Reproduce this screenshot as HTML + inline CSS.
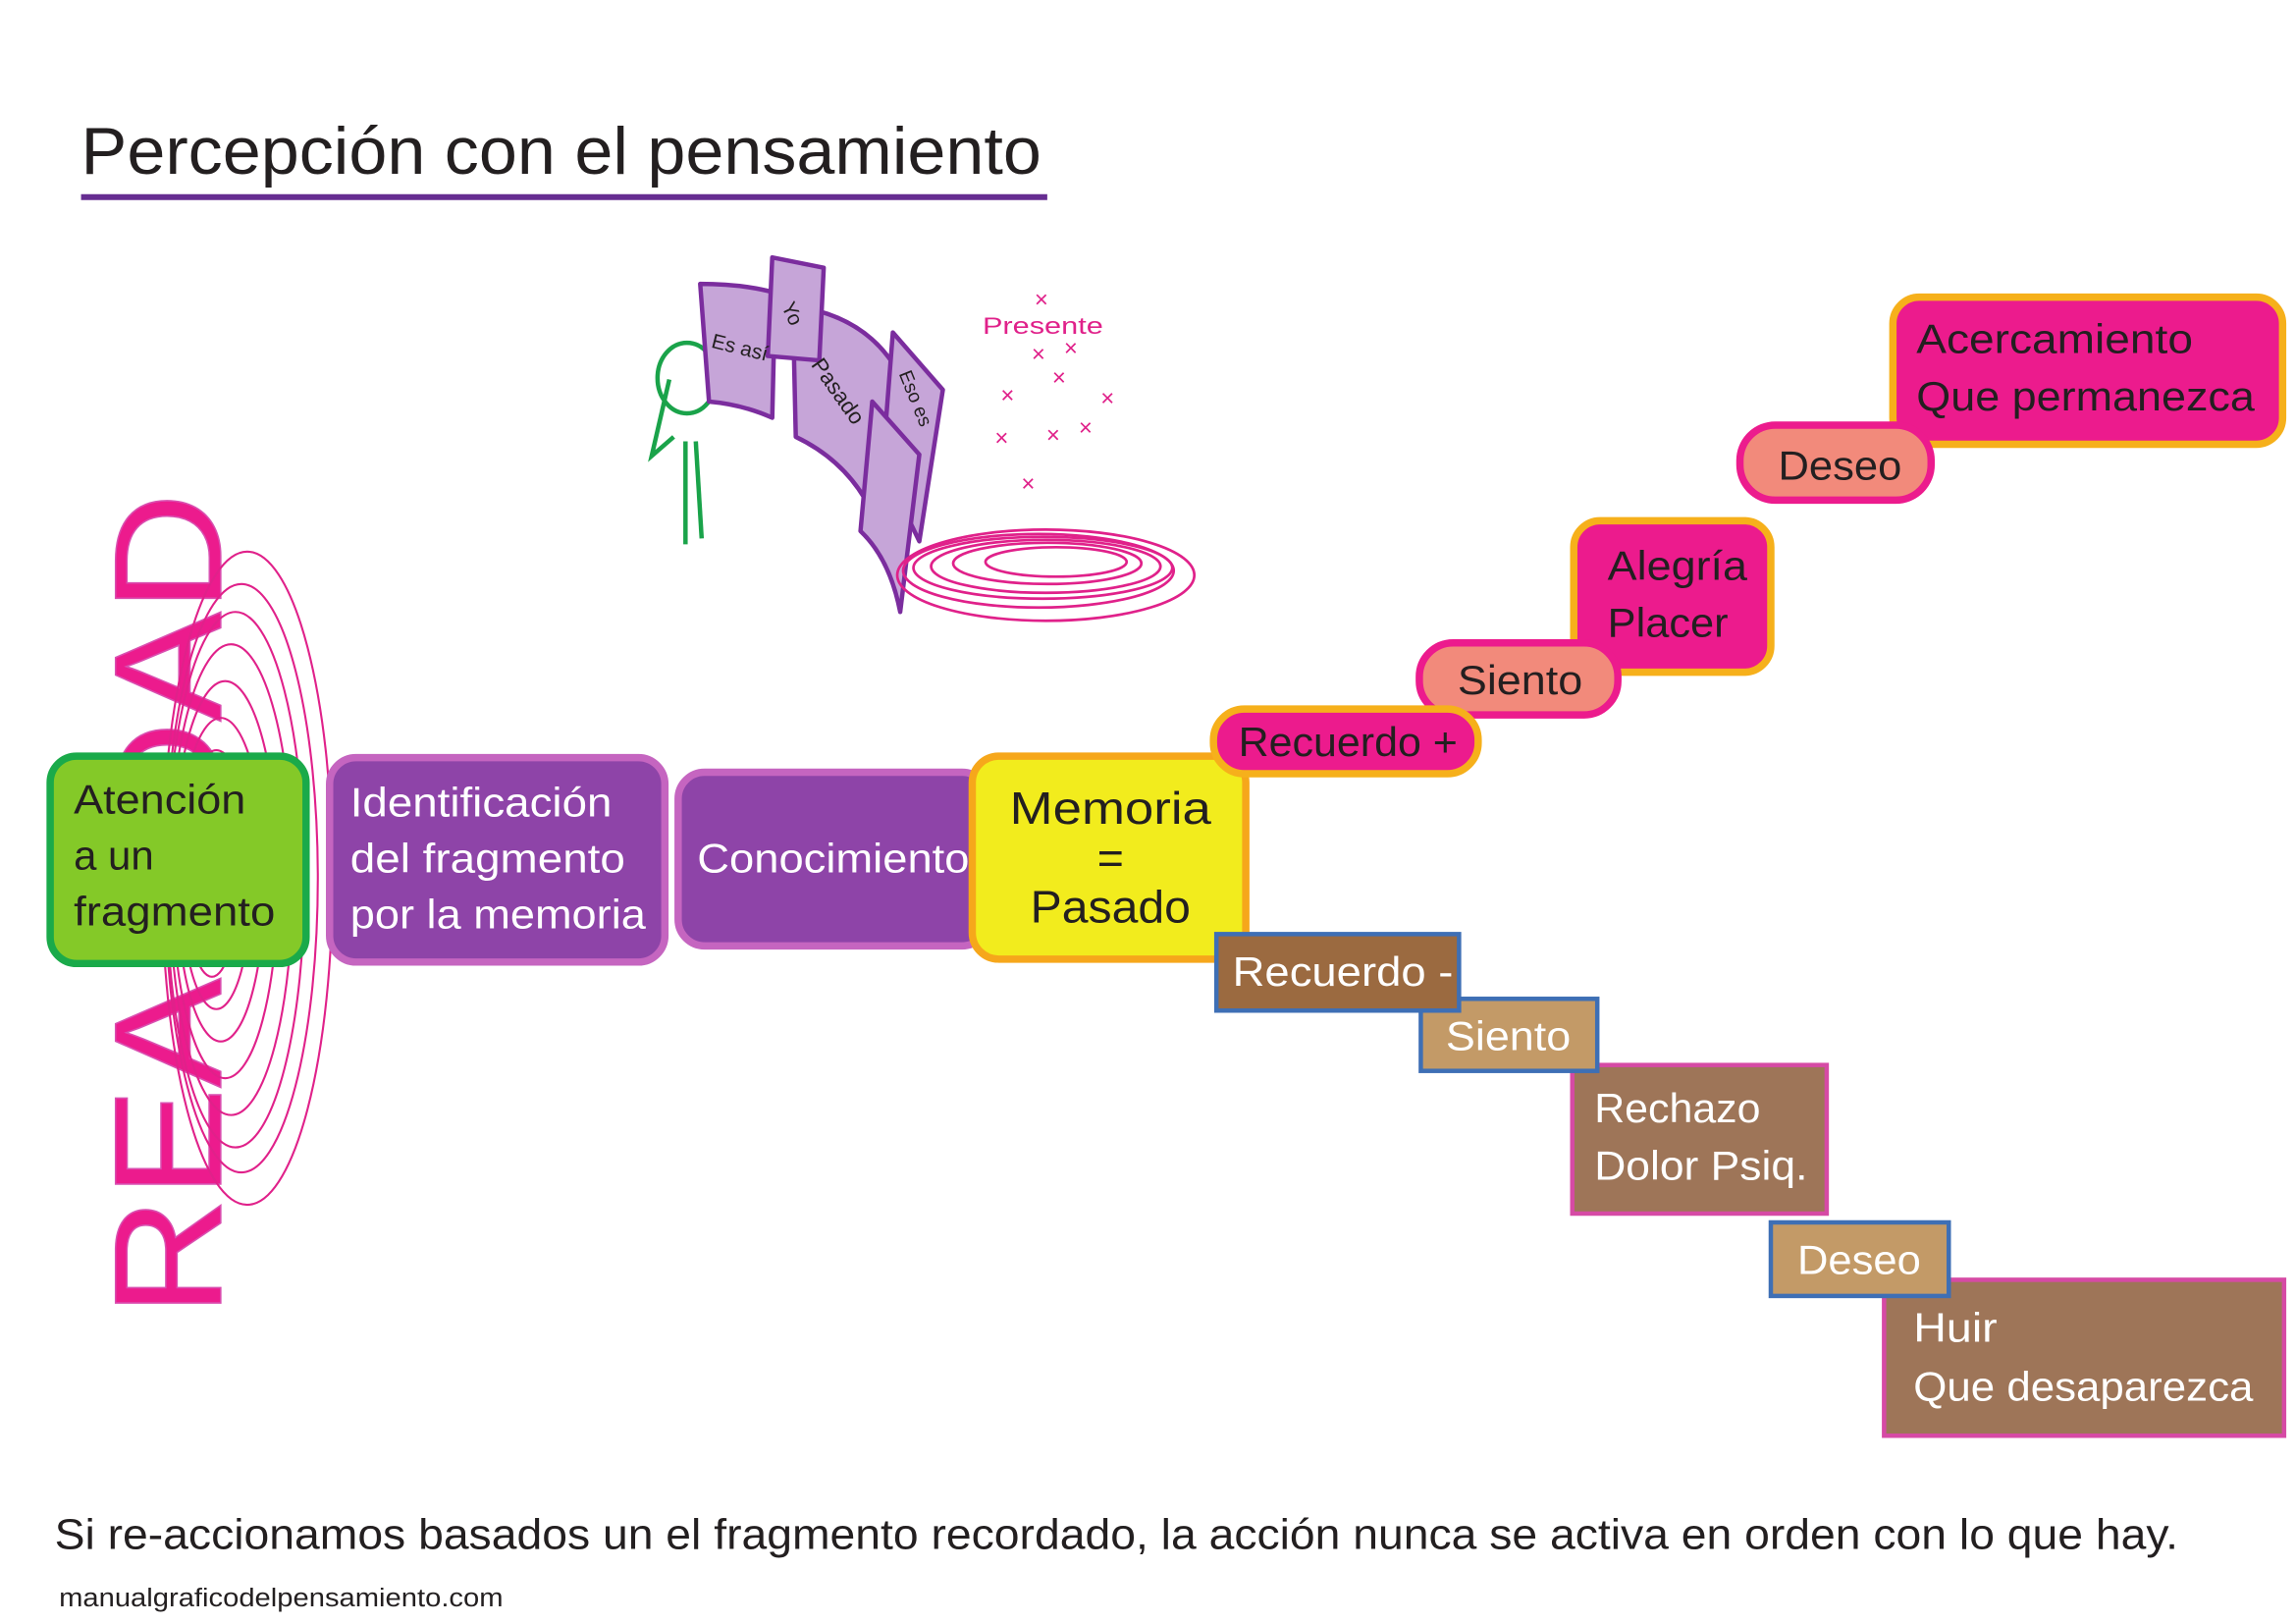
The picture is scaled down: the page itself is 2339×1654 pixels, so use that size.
<!DOCTYPE html>
<html><head><meta charset="utf-8"><style>
html,body{margin:0;padding:0;background:#fff;}
svg{display:block;}
text{font-family:"Liberation Sans",sans-serif;}
</style></head><body>
<svg width="2339" height="1654" viewBox="0 0 1561 1104" xmlns="http://www.w3.org/2000/svg">
<rect width="1561" height="1104" fill="#fff"/>
<text x="55" y="118" font-size="45" fill="#231f20" textLength="653" lengthAdjust="spacingAndGlyphs">Percepción con el pensamiento</text>
<rect x="55" y="132" width="657" height="4" fill="#662d91"/>

<text transform="translate(150,895) rotate(-90)" font-size="104" fill="#ec1b8d" stroke="#d94fb0" stroke-width="1" textLength="560" lengthAdjust="spacingAndGlyphs">REALIDAD</text>
<g fill="none" stroke="#e0218a" stroke-width="1.4">
<ellipse cx="168" cy="597" rx="58" ry="222"/>
<ellipse cx="164" cy="597" rx="52" ry="200"/>
<ellipse cx="160" cy="598" rx="47" ry="182"/>
<ellipse cx="157" cy="598" rx="42" ry="160"/>
<ellipse cx="153" cy="598" rx="36" ry="135"/>
<ellipse cx="150" cy="598" rx="30" ry="110"/>
<ellipse cx="147" cy="598" rx="24" ry="88"/>
<ellipse cx="144" cy="598" rx="18" ry="66"/>
</g>

<g fill="none" stroke="#1aa34a" stroke-width="3">
<ellipse cx="467" cy="257" rx="20" ry="24"/>
<line x1="466" y1="300" x2="466" y2="370"/>
<line x1="473" y1="300" x2="477" y2="366"/>
<polyline points="455,258 443,310 458,297"/>
</g>
<g fill="#c6a5d8" stroke="#7b2d9e" stroke-width="3" stroke-linejoin="round">
<path d="M476,193 Q505,193 527,199 L525,284 Q505,275 482,273 Z"/>
<path d="M539,208 Q585,214 607,247 L615,300 L600,366 Q585,318 541,297 Z"/>
<path d="M525,175 L560,182 L557,245 L522,242 Z"/>
<path d="M607,226 L641,265 L625,368 L600,316 Z"/>
<path d="M593,273 L625,309 L612,416 Q605,380 585,361 Z"/>
</g>
<text transform="translate(483,236) rotate(14)" font-size="14" fill="#231f20">Es así</text>
<text transform="translate(531,208) rotate(65)" font-size="14" fill="#231f20">Yo</text>
<text transform="translate(551,248) rotate(55)" font-size="15" fill="#231f20">Pasado</text>
<text transform="translate(611,254) rotate(68)" font-size="13" fill="#231f20">Eso es</text>
<text x="668" y="227" font-size="16" fill="#e0218a" textLength="82" lengthAdjust="spacingAndGlyphs">Presente</text>
<g font-size="16" fill="#e0218a" text-anchor="middle">
<text x="708" y="209">×</text><text x="706" y="246">×</text><text x="728" y="242">×</text>
<text x="720" y="262">×</text><text x="685" y="274">×</text><text x="753" y="276">×</text>
<text x="738" y="296">×</text><text x="681" y="303">×</text><text x="716" y="301">×</text>
<text x="699" y="334">×</text>
</g>
<g fill="none" stroke="#e0218a" stroke-width="1.8">
<ellipse cx="711" cy="391" rx="101" ry="31"/>
<ellipse cx="706" cy="388" rx="92" ry="25"/>
<ellipse cx="709" cy="386" rx="88" ry="21"/>
<ellipse cx="711" cy="385" rx="78" ry="18"/>
<ellipse cx="712" cy="383" rx="64" ry="14"/>
<ellipse cx="718" cy="382" rx="48" ry="10"/>
</g>

<rect x="34" y="514" width="174" height="141" rx="18" fill="#84c928" stroke="#1aaa4a" stroke-width="5"/>
<g font-size="28" fill="#231f20"><text x="50" y="553" textLength="117" lengthAdjust="spacingAndGlyphs">Atención</text><text x="50" y="591">a un</text><text x="50" y="629" textLength="137" lengthAdjust="spacingAndGlyphs">fragmento</text></g>
<rect x="224" y="515" width="228" height="139" rx="18" fill="#8e44a8" stroke="#c565c0" stroke-width="5"/>
<g font-size="28" fill="#fff"><text x="238" y="555" textLength="178" lengthAdjust="spacingAndGlyphs">Identificación</text><text x="238" y="593" textLength="187" lengthAdjust="spacingAndGlyphs">del fragmento</text><text x="238" y="631" textLength="201" lengthAdjust="spacingAndGlyphs">por la memoria</text></g>
<rect x="461" y="525" width="211" height="118" rx="18" fill="#8e44a8" stroke="#c565c0" stroke-width="5"/>
<text x="474" y="593" font-size="28" fill="#fff" textLength="185" lengthAdjust="spacingAndGlyphs">Conocimiento</text>
<rect x="661" y="514" width="186" height="138" rx="18" fill="#f2ec1d" stroke="#f6a71b" stroke-width="5"/>
<g font-size="31" fill="#231f20" text-anchor="middle"><text x="755" y="560" textLength="137" lengthAdjust="spacingAndGlyphs">Memoria</text><text x="755" y="594">=</text><text x="755" y="627" textLength="109" lengthAdjust="spacingAndGlyphs">Pasado</text></g>

<rect x="1287" y="202" width="265" height="100" rx="18" fill="#ec1b8d" stroke="#f6b01b" stroke-width="5"/>
<g font-size="28" fill="#231f20"><text x="1303" y="240" textLength="188" lengthAdjust="spacingAndGlyphs">Acercamiento</text><text x="1303" y="279" textLength="230" lengthAdjust="spacingAndGlyphs">Que permanezca</text></g>
<rect x="1183" y="289" width="130" height="51" rx="24" fill="#f28a7b" stroke="#ec1b8d" stroke-width="5"/>
<text x="1209" y="326" font-size="28" fill="#231f20" textLength="84" lengthAdjust="spacingAndGlyphs">Deseo</text>
<rect x="1070" y="354" width="134" height="103" rx="18" fill="#ec1b8d" stroke="#f6b01b" stroke-width="5"/>
<g font-size="28" fill="#231f20"><text x="1093" y="394" textLength="95" lengthAdjust="spacingAndGlyphs">Alegría</text><text x="1093" y="433" textLength="82" lengthAdjust="spacingAndGlyphs">Placer</text></g>
<rect x="965" y="437" width="135" height="49" rx="23" fill="#f28a7b" stroke="#ec1b8d" stroke-width="5"/>
<text x="991" y="472" font-size="28" fill="#231f20" textLength="85" lengthAdjust="spacingAndGlyphs">Siento</text>
<rect x="825" y="482" width="180" height="44" rx="21" fill="#ec1b8d" stroke="#f6b01b" stroke-width="5"/>
<text x="842" y="514" font-size="28" fill="#231f20" textLength="149" lengthAdjust="spacingAndGlyphs">Recuerdo +</text>

<rect x="1069" y="724" width="173" height="101" fill="#9e7558" stroke="#d64aa5" stroke-width="3"/>
<g font-size="28" fill="#fff"><text x="1084" y="763" textLength="113" lengthAdjust="spacingAndGlyphs">Rechazo</text><text x="1084" y="802" textLength="145" lengthAdjust="spacingAndGlyphs">Dolor Psiq.</text></g>
<rect x="1281" y="870" width="272" height="106" fill="#9e7558" stroke="#d64aa5" stroke-width="3"/>
<g font-size="28" fill="#fff"><text x="1301" y="912" textLength="57" lengthAdjust="spacingAndGlyphs">Huir</text><text x="1301" y="952" textLength="231" lengthAdjust="spacingAndGlyphs">Que desaparezca</text></g>
<rect x="1204" y="831" width="121" height="50" fill="#c39a67" stroke="#3e6fb5" stroke-width="3"/>
<text x="1222" y="866" font-size="28" fill="#fff" textLength="84" lengthAdjust="spacingAndGlyphs">Deseo</text>
<rect x="966" y="679" width="120" height="49" fill="#c39a67" stroke="#3e6fb5" stroke-width="3"/>
<text x="983" y="714" font-size="28" fill="#fff" textLength="85" lengthAdjust="spacingAndGlyphs">Siento</text>
<rect x="827" y="635" width="165" height="52" fill="#9b6a40" stroke="#3e6fb5" stroke-width="3"/>
<text x="838" y="670" font-size="28" fill="#fff" textLength="150" lengthAdjust="spacingAndGlyphs">Recuerdo -</text>

<text x="37" y="1053" font-size="29" fill="#231f20" textLength="1444" lengthAdjust="spacingAndGlyphs">Si re-accionamos basados un el fragmento recordado, la acción nunca se activa en orden con lo que hay.</text>
<text x="40" y="1092" font-size="17" fill="#231f20" textLength="302" lengthAdjust="spacingAndGlyphs">manualgraficodelpensamiento.com</text>
</svg>
</body></html>
